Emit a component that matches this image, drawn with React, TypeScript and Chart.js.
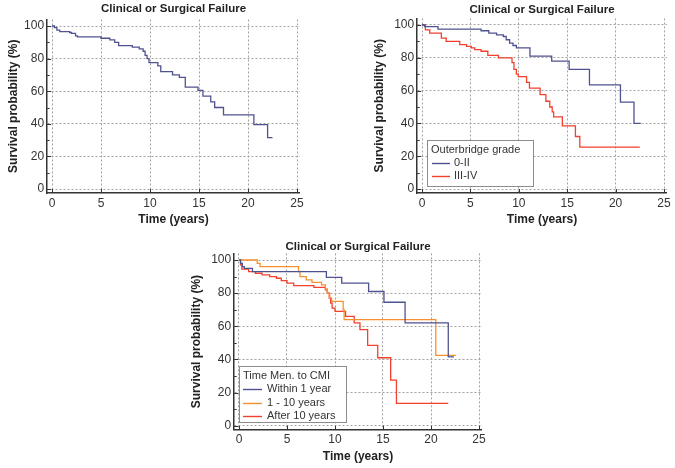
import React, { useEffect, useRef } from 'react';
import { Chart, registerables } from 'chart.js';

Chart.register(...registerables);

// ---------- text ----------
const TITLE = 'Clinical or Surgical Failure';
const Y_LABEL = 'Survival probability (%)';
const X_LABEL = 'Time (years)';

// ---------- ticks ----------
const X_TICKS = [0, 5, 10, 15, 20, 25];
const Y_TICKS = [0, 20, 40, 60, 80, 100];
const Y_MINOR = [10, 30, 50, 70, 90];
const X_MIN = -0.5;
const X_MAX = 25.3;
const Y_MIN = -2.5;
const Y_MAX = 104;

// ---------- data : plot 1 (all patients) ----------
const allTimes = [0, 0.25, 0.5, 0.8, 1.8, 2.0, 2.4, 2.6, 5.0, 5.9, 6.4, 6.8, 8.2, 8.9, 9.3, 9.5, 9.7, 9.9, 10.8, 11.1, 12.3, 13.0, 13.6, 14.9, 15.4, 16.2, 16.6, 17.5, 20.6, 22.0, 22.5];
const allSurv = [100, 99, 97.5, 96.5, 96, 95.5, 94, 93.3, 92.5, 91.5, 90, 88, 87, 86, 84.5, 82, 80, 77.5, 75.5, 72, 70, 68.5, 62.5, 60.5, 57, 53.5, 50, 45.5, 39.5, 31.5, 31.5];

// ---------- data : plot 2 (Outerbridge grade) ----------
const gradeLowTimes = [0, 0.28, 1.65, 6.1, 6.9, 7.7, 8.4, 8.7, 9.05, 9.4, 9.75, 11.15, 13.4, 15.2, 17.3, 20.5, 21.9, 22.6];
const gradeLowSurv = [100, 99, 97.5, 96.5, 95, 94, 93, 91, 89, 87.5, 86, 81, 78, 73, 63.5, 53, 40, 40];
const gradeHighTimes = [0, 0.35, 0.8, 2.0, 2.5, 3.9, 4.6, 5.1, 5.45, 6.1, 6.8, 7.9, 9.3, 9.5, 9.75, 9.95, 10.8, 11.1, 12.2, 12.8, 13.2, 13.45, 13.6, 14.5, 15.85, 16.3, 22.5];
const gradeHighSurv = [100, 97, 95, 92, 90, 88, 87, 86, 85, 84, 81.5, 80, 77, 73, 70, 68.5, 65, 61.5, 57.5, 53.5, 50, 47, 44, 38.5, 32, 25.5, 25.5];

// ---------- data : plot 3 (time meniscectomy to CMI) ----------
const within1Times = [0, 0.17, 0.35, 0.55, 1.4, 9.1, 10.7, 13.5, 15.1, 17.3, 21.8, 22.4];
const within1Surv = [100, 98, 96, 95, 93, 89.5, 86, 81, 74.5, 62, 41.5, 41.5];
const oneToTenTimes = [0, 1.9, 2.2, 6.2, 6.35, 7.0, 7.6, 8.6, 9.0, 9.2, 9.45, 9.65, 10.85, 10.95, 20.5, 22.6];
const oneToTenSurv = [100, 98, 96, 93, 90, 88, 86.5, 85, 82.5, 80, 77, 75, 70, 64, 42.5, 42.5];
const after10Times = [0, 0.15, 0.3, 1.0, 1.7, 2.4, 3.2, 3.9, 4.4, 5.0, 5.7, 7.8, 9.0, 9.2, 9.4, 9.55, 9.7, 10.0, 11.1, 12.0, 12.6, 13.4, 14.45, 15.8, 16.4, 21.8];
const after10Surv = [100, 97, 94.5, 93, 92, 91, 90, 89, 87.5, 86, 84.5, 83.5, 82, 80, 77, 74, 71, 69, 66, 62, 58, 48.5, 41, 27.5, 13.5, 13.5];

const BLUE = '#4f5290';
const RED = '#f2402c';
const ORANGE = '#f7902e';

const FONT = '"Liberation Sans", Arial, Helvetica, sans-serif';

type Series = { label: string; times: number[]; surv: number[]; color: string };

type Spec = {
  canvas: { left: number; top: number; width: number; height: number };
  x0: number; x25: number; y0: number; y100: number;
  yTitleX: number; xTitleY: number; titleY: number;
  series: Series[];
  legend?: { title: string; x: number; y: number; w: number; h: number; rowGap: number; lineX: number; lineW: number; textX: number };
};

const SPECS: Spec[] = [
  {
    canvas: { left: 0, top: 0, width: 330, height: 234 },
    x0: 52, x25: 297, y0: 189, y100: 26,
    yTitleX: 14, xTitleY: 220, titleY: 8,
    series: [{ label: 'All', times: allTimes, surv: allSurv, color: BLUE }],
  },
  {
    canvas: { left: 366, top: 0, width: 309, height: 234 },
    x0: 422, x25: 664, y0: 189, y100: 25,
    yTitleX: 380, xTitleY: 220, titleY: 9,
    series: [
      { label: '0-II', times: gradeLowTimes, surv: gradeLowSurv, color: BLUE },
      { label: 'III-IV', times: gradeHighTimes, surv: gradeHighSurv, color: RED },
    ],
    legend: { title: 'Outerbridge grade', x: 427, y: 140, w: 106, h: 46, rowGap: 13, lineX: 5, lineW: 18, textX: 27 },
  },
  {
    canvas: { left: 183, top: 234, width: 330, height: 234 },
    x0: 239, x25: 479, y0: 425.7, y100: 260,
    yTitleX: 197, xTitleY: 457, titleY: 246,
    series: [
      { label: 'Within 1 year', times: within1Times, surv: within1Surv, color: BLUE },
      { label: '1 - 10 years', times: oneToTenTimes, surv: oneToTenSurv, color: ORANGE },
      { label: 'After 10 years', times: after10Times, surv: after10Surv, color: RED },
    ],
    legend: { title: 'Time Men. to CMI', x: 239, y: 366, w: 107, h: 56, rowGap: 13.3, lineX: 4, lineW: 19, textX: 28 },
  },
];

function buildConfig(spec: Spec): any {
  const c = spec.canvas;
  const pxX = (spec.x25 - spec.x0) / 25;
  const pxY = (spec.y0 - spec.y100) / 100;
  const chartLeft = spec.x0 + X_MIN * pxX;
  const chartRight = spec.x0 + X_MAX * pxX;
  const chartTop = spec.y0 - Y_MAX * pxY;
  const chartBottom = spec.y0 - Y_MIN * pxY;
  const yAxisW = chartLeft - c.left;
  const xAxisH = c.top + c.height - chartBottom;
  const titleFont = { family: FONT, size: 12, weight: 'bold' as const, lineHeight: 1.2 };

  const decor = {
    id: 'decor',
    afterDraw(chart: any) {
      const ctx = chart.ctx;
      const area = chart.chartArea;
      const xs = chart.scales.x;
      const ys = chart.scales.y;
      ctx.save();
      // inward tick marks
      ctx.strokeStyle = '#333';
      ctx.lineWidth = 1;
      ctx.beginPath();
      X_TICKS.forEach((v) => {
        const p = Math.round(xs.getPixelForValue(v)) + 0.5;
        ctx.moveTo(p, area.bottom);
        ctx.lineTo(p, area.bottom - 4);
      });
      Y_TICKS.forEach((v) => {
        const p = Math.round(ys.getPixelForValue(v)) + 0.5;
        ctx.moveTo(area.left, p);
        ctx.lineTo(area.left + 4, p);
      });
      Y_MINOR.forEach((v) => {
        const p = Math.round(ys.getPixelForValue(v)) + 0.5;
        ctx.moveTo(area.left, p);
        ctx.lineTo(area.left + 2.5, p);
      });
      ctx.stroke();
      // title
      ctx.fillStyle = '#222';
      ctx.font = `bold 11.5px ${FONT}`;
      ctx.textAlign = 'center';
      ctx.textBaseline = 'middle';
      ctx.fillText(TITLE, (area.left + area.right) / 2, spec.titleY - c.top + 0.5);
      // legend
      const lg = spec.legend;
      if (lg) {
        const bx = lg.x - c.left;
        const by = lg.y - c.top;
        ctx.fillStyle = '#fff';
        ctx.fillRect(bx, by, lg.w, lg.h);
        ctx.strokeStyle = '#8c8c8c';
        ctx.lineWidth = 1;
        ctx.strokeRect(Math.round(bx) + 0.5, Math.round(by) + 0.5, lg.w, lg.h);
        ctx.font = `11px ${FONT}`;
        ctx.textAlign = 'left';
        ctx.textBaseline = 'middle';
        ctx.fillStyle = '#333';
        ctx.fillText(lg.title, bx + 4, by + 10);
        spec.series.forEach((s, i) => {
          const yy = by + 10 + lg.rowGap * (i + 1);
          ctx.strokeStyle = s.color;
          ctx.lineWidth = 1.4;
          ctx.beginPath();
          ctx.moveTo(bx + lg.lineX, Math.round(yy) + 0.5);
          ctx.lineTo(bx + lg.lineX + lg.lineW, Math.round(yy) + 0.5);
          ctx.stroke();
          ctx.fillStyle = '#333';
          ctx.fillText(s.label, bx + lg.textX, yy);
        });
      }
      ctx.restore();
    },
  };

  return {
    type: 'line',
    data: {
      datasets: spec.series.map((s) => ({
        label: s.label,
        data: s.times.map((t, i) => ({ x: t, y: s.surv[i] })),
        borderColor: s.color,
        backgroundColor: s.color,
        borderWidth: 1.3,
        pointRadius: 0,
        fill: false,
        stepped: 'before',
        tension: 0,
      })),
    },
    options: {
      responsive: false,
      animation: false,
      events: [],
      layout: { padding: { top: chartTop - c.top, right: c.left + c.width - chartRight, bottom: 0, left: 0 } },
      plugins: { legend: { display: false }, tooltip: { enabled: false }, title: { display: false } },
      scales: {
        x: {
          type: 'linear',
          min: X_MIN,
          max: X_MAX,
          afterBuildTicks: (scale: any) => { scale.ticks = X_TICKS.map((v) => ({ value: v })); },
          afterFit: (scale: any) => { scale.height = xAxisH; },
          ticks: { color: '#333', font: { family: FONT, size: 12 }, padding: 3, maxRotation: 0, autoSkip: false },
          grid: { color: '#a2a2a2', lineWidth: 1, drawTicks: false },
          border: { display: true, color: '#333', width: 1.5, dash: [2, 2] },
          title: {
            display: true,
            text: X_LABEL,
            color: '#222',
            font: titleFont,
            padding: { top: 0, bottom: c.top + c.height - spec.xTitleY - 7.2 },
          },
        },
        y: {
          type: 'linear',
          min: Y_MIN,
          max: Y_MAX,
          afterBuildTicks: (scale: any) => { scale.ticks = Y_TICKS.map((v) => ({ value: v })); },
          afterFit: (scale: any) => { scale.width = yAxisW; },
          ticks: { color: '#333', font: { family: FONT, size: 12 }, padding: 3 },
          grid: { color: '#a2a2a2', lineWidth: 1, drawTicks: false },
          border: { display: true, color: '#333', width: 1.5, dash: [2, 2] },
          title: {
            display: true,
            text: Y_LABEL,
            color: '#222',
            font: titleFont,
            padding: { top: spec.yTitleX - c.left - 7.2, bottom: 0 },
          },
        },
      },
    },
    plugins: [decor],
  };
}

function KMChart({ spec }: { spec: Spec }) {
  const ref = useRef<HTMLCanvasElement | null>(null);
  useEffect(() => {
    if (!ref.current) return;
    const chart = new Chart(ref.current, buildConfig(spec));
    return () => chart.destroy();
  }, [spec]);
  const c = spec.canvas;
  return (
    <canvas
      ref={ref}
      width={c.width}
      height={c.height}
      style={{ position: 'absolute', left: c.left, top: c.top, width: c.width, height: c.height }}
    />
  );
}

export default function App() {
  return (
    <div style={{ position: 'absolute', left: 0, top: 0, width: 675, height: 468, background: '#fff', overflow: 'hidden' }}>
      {SPECS.map((s, i) => (
        <KMChart key={i} spec={s} />
      ))}
    </div>
  );
}
